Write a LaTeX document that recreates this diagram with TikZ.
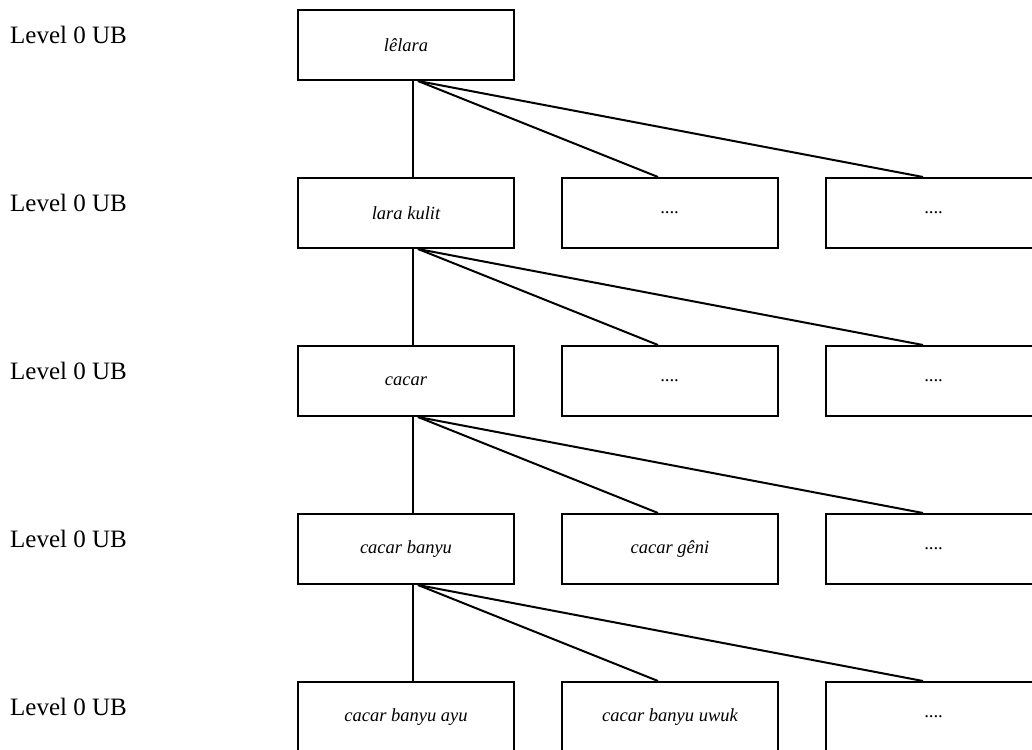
\documentclass[tikz,border=0pt]{standalone}
\usepackage{fontspec}
\setmainfont{Liberation Serif}
\begin{document}
\begin{tikzpicture}[x=1pt,y=-1pt,
  box/.style={draw,line width=2pt,minimum width=216pt,minimum height=70pt,inner sep=0pt,
    font=\fontsize{18.5}{20}\selectfont\itshape,anchor=north west},
  lvl/.style={anchor=west,inner sep=0pt,font=\fontsize{25}{28}\selectfont},
  conn/.style={line width=2pt}]
\useasboundingbox (0,0) rectangle (1032,749);
\clip (0,0) rectangle (1032,749);
% level labels
\foreach \i/\y in {1/35,2/203,3/371,4/539,5/707}
  \node[lvl] (l\i) at (10,\y) {Level 0 UB};
% boxes
\node[box] (a1) at (297,9) {lêlara};
\node[box] (b1) at (297,177) {lara kulit};
\node[box] (b2) at (561,177) {....};
\node[box] (b3) at (825,177) {....};
\node[box] (c1) at (297,345) {cacar};
\node[box] (c2) at (561,345) {....};
\node[box] (c3) at (825,345) {....};
\node[box] (d1) at (297,513) {cacar banyu};
\node[box] (d2) at (561,513) {cacar gêni};
\node[box] (d3) at (825,513) {....};
\node[box] (e1) at (297,681) {cacar banyu ayu};
\node[box] (e2) at (561,681) {cacar banyu uwuk};
\node[box] (e3) at (825,681) {....};
% connectors
\foreach \p/\c in {a/b,b/c,c/d,d/e}{
  \draw[conn] ([xshift=7pt]\p1.south) -- ([xshift=7pt]\c1.north);
  \draw[conn] ([xshift=12pt]\p1.south) -- ([xshift=-12pt]\c2.north);
  \draw[conn] ([xshift=12pt]\p1.south) -- ([xshift=-11pt]\c3.north);
}
\end{tikzpicture}
\end{document}
